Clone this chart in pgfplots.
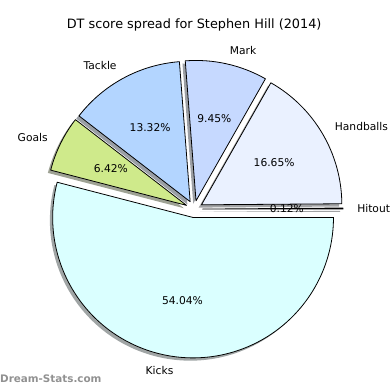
\documentclass[border=0pt]{standalone}
\usepackage{pgfplots}
\pgfplotsset{compat=1.18}
\usepackage{fontspec}
\setmainfont{DejaVu Sans}
\newfontfamily\wmfont{DejaVu Sans Bold}
\definecolor{cKicks}{HTML}{DAFFFF}
\definecolor{cHand}{HTML}{EAF1FF}
\definecolor{cMark}{HTML}{C6D9FF}
\definecolor{cTackle}{HTML}{B3D5FF}
\definecolor{cGoals}{HTML}{CFEA8B}
\definecolor{cHit}{HTML}{E0E8F8}
\definecolor{wmgray}{RGB}{145,145,145}
% #1 start (percent), #2 share (percent)
\newcommand{\wedgepath}[2]{(axis cs:195,180) ++({(#1+#2/2)*3.6}:8.5bp) -- ++({#1*3.6}:141bp) arc[start angle={#1*3.6}, end angle={(#1+#2)*3.6}, radius=141bp] -- cycle}
\newcommand{\shadowwedge}[3]{\fill[#3!30!black, fill opacity=0.5, shift={(-2.8bp,-2.8bp)}] \wedgepath{#1}{#2};}
\newcommand{\piewedge}[3]{\filldraw[fill=#3, draw=black, line width=0.8bp, line join=round] \wedgepath{#1}{#2};}
% #1 start, #2 share, #3 anchor, #4 label
\newcommand{\wedgelabels}[4]{%
  \path (axis cs:195,180) ++({(#1+#2/2)*3.6}:8.5bp) ++({(#1+#2/2)*3.6}:155.1bp) node[anchor=#3, inner sep=0pt]{#4};
  \path (axis cs:195,180) ++({(#1+#2/2)*3.6}:8.5bp) ++({(#1+#2/2)*3.6}:84.6bp) node[inner sep=0pt]{#2\%};
}
\begin{document}
\begin{tikzpicture}
\begin{axis}[x=1bp, y=1bp, xmin=0, xmax=390, ymin=0, ymax=390, hide axis, clip=false,
  font=\fontsize{10.75bp}{12bp}\selectfont]
\path (axis cs:0,0) rectangle (axis cs:390,390);
% shadows (start, share, colour)
\shadowwedge{0}{0.12}{cHit}
\shadowwedge{0.12}{16.65}{cHand}
\shadowwedge{16.77}{9.45}{cMark}
\shadowwedge{26.22}{13.32}{cTackle}
\shadowwedge{39.54}{6.42}{cGoals}
\shadowwedge{45.96}{54.04}{cKicks}
% wedges
\piewedge{0}{0.12}{cHit}
\piewedge{0.12}{16.65}{cHand}
\piewedge{16.77}{9.45}{cMark}
\piewedge{26.22}{13.32}{cTackle}
\piewedge{39.54}{6.42}{cGoals}
\piewedge{45.96}{54.04}{cKicks}
% labels
\wedgelabels{0}{0.12}{west}{Hitout}
\wedgelabels{0.12}{16.65}{west}{Handballs}
\wedgelabels{16.77}{9.45}{west}{Mark}
\wedgelabels{26.22}{13.32}{east}{Tackle}
\wedgelabels{39.54}{6.42}{east}{Goals}
\wedgelabels{45.96}{54.04}{east}{Kicks}
\node[font=\fontsize{12.9bp}{15bp}\selectfont] at (axis cs:195,365) {DT score spread for Stephen Hill (2014)};
\node[anchor=west, inner sep=0pt, text=wmgray, font=\wmfont\fontsize{10.4bp}{12bp}\selectfont] at (axis cs:0,10) {Dream-Stats.com};
\end{axis}
\end{tikzpicture}
\end{document}
